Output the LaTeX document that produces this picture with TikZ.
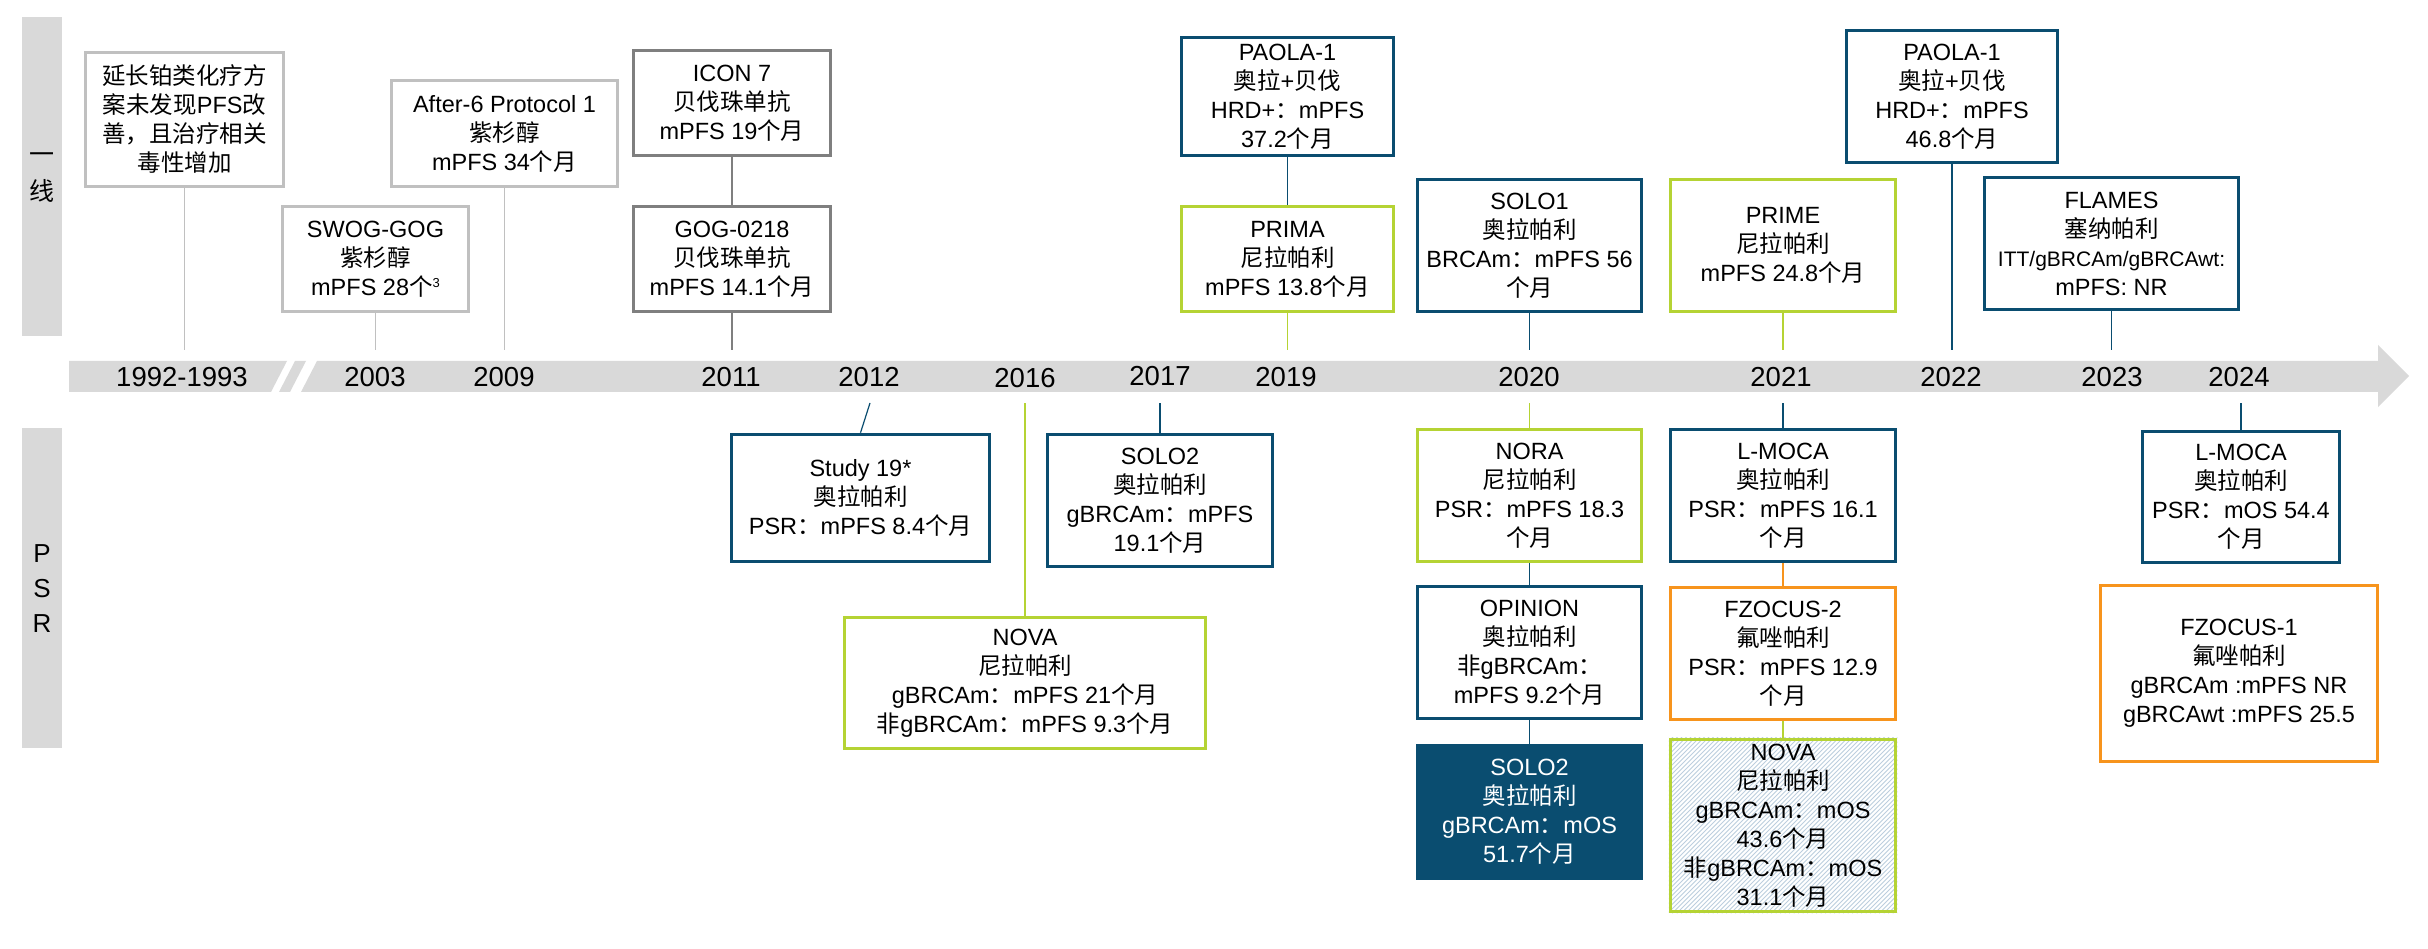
\documentclass[tikz,border=0pt]{standalone}
\usepackage{fontspec}
\setmainfont{Liberation Sans}
\newfontfamily\cjk{Noto Sans CJK SC}
\newcommand\z[1]{{\cjk #1}}
\pgfdeclarelayer{bg}
\pgfsetlayers{bg,main}
\definecolor{cblue}{RGB}{10,77,112}
\definecolor{cgreen}{RGB}{181,211,52}
\definecolor{corange}{RGB}{247,148,29}
\definecolor{lgray}{RGB}{192,192,192}
\definecolor{dgray}{RGB}{127,127,127}
\definecolor{barg}{RGB}{217,217,217}
\definecolor{hatch}{RGB}{188,206,222}
\newcommand\tlbox[7]{\node[#2, minimum width={#5-#3-3}, minimum height={#6-#4-3}] (#1) at ({(#3+#5)/2},{(#4+#6)/2}) {#7};}
\begin{document}
\begin{tikzpicture}[x=1pt,y=-1pt,
  every node/.style={font=\fontsize{23.5}{29}\selectfont, align=center, inner sep=0pt},
  gbox/.style={draw=lgray, line width=3pt},
  dbox/.style={draw=dgray, line width=3pt},
  bbox/.style={draw=cblue, line width=3.5pt},
  grbox/.style={draw=cgreen, line width=3.5pt},
  obox/.style={draw=corange, line width=3.5pt},
  fbox/.style={draw=cblue, line width=3pt, fill=cblue, text=white},
  hbox/.style={draw=cgreen, line width=3.5pt},
  conn/.style={line width=1.2pt},
  yr/.style={font=\fontsize{27.5}{30}\selectfont, anchor=base},
]
\useasboundingbox (0,0) rectangle (2428,949);
\begin{pgfonlayer}{bg}
\fill[white] (0,0) rectangle (2428,949);
\end{pgfonlayer}

% side bars
\fill[barg] (22,17) rectangle (62,336);
\fill[barg] (22,428) rectangle (62,748);
\node[font=\cjk\fontsize{25}{37}\selectfont] (lab1) at (42,178) {一\\线};
\node[font=\fontsize{26}{35}\selectfont] (lab2) at (42,589) {P\\S\\R};

% timeline bar
\fill[barg] (69,361) -- (287,361) -- (271,392) -- (69,392) -- cycle;
\fill[barg] (295,361) -- (306,361) -- (290,392) -- (279,392) -- cycle;
\fill[barg] (317,361) -- (2378,361) -- (2378,345) -- (2409,376) -- (2378,407) -- (2378,392) -- (301,392) -- cycle;

% years
\node[yr] (y1) at (182,387) {1992-1993};
\node[yr] (y2) at (375,387) {2003};
\node[yr] (y3) at (504,387) {2009};
\node[yr] (y4) at (731,387) {2011};
\node[yr] (y5) at (869,387) {2012};
\node[yr] (y6) at (1025,388) {2016};
\node[yr] (y7) at (1160,385) {2017};
\node[yr] (y8) at (1286,387) {2019};
\node[yr] (y9) at (1529,387) {2020};
\node[yr] (y10) at (1781,387) {2021};
\node[yr] (y11) at (1951,387) {2022};
\node[yr] (y12) at (2112,387) {2023};
\node[yr] (y13) at (2239,387) {2024};

\coordinate (tl) at (0,350);
\coordinate (bl) at (0,403);

% top boxes
\tlbox{b1}{gbox}{84}{51}{285}{188}{\z{延长铂类化疗方}\\\z{案未发现}PFS\z{改}\\\z{善，且治疗相关}\\\z{毒性增加}}
\tlbox{swog}{gbox}{281}{205}{470}{313}{SWOG-GOG\\\z{紫杉醇}\\mPFS 28\z{个}\raisebox{8pt}{\fontsize{13}{13}\selectfont 3}}
\tlbox{after}{gbox}{390}{79}{619}{188}{After-6 Protocol 1\\\z{紫杉醇}\\mPFS 34\z{个月}}
\tlbox{icon}{dbox}{632}{49}{832}{157}{ICON 7\\\z{贝伐珠单抗}\\mPFS 19\z{个月}}
\tlbox{gog}{dbox}{632}{205}{832}{313}{GOG-0218\\\z{贝伐珠单抗}\\mPFS 14.1\z{个月}}
\tlbox{paolaA}{bbox}{1180}{36}{1395}{157}{PAOLA-1\\\z{奥拉}+\z{贝伐}\\HRD+\z{：}mPFS\\37.2\z{个月}}
\tlbox{prima}{grbox}{1180}{205}{1395}{313}{PRIMA\\\z{尼拉帕利}\\mPFS 13.8\z{个月}}
\tlbox{solo1}{bbox}{1416}{178}{1643}{313}{SOLO1\\\z{奥拉帕利}\\BRCAm\z{：}mPFS 56\\\z{个月}}
\tlbox{prime}{grbox}{1669}{178}{1897}{313}{PRIME\\\z{尼拉帕利}\\mPFS 24.8\z{个月}}
\tlbox{paolaB}{bbox}{1845}{29}{2059}{164}{PAOLA-1\\\z{奥拉}+\z{贝伐}\\HRD+\z{：}mPFS\\46.8\z{个月}}
\tlbox{flames}{bbox}{1983}{176}{2240}{311}{FLAMES\\\z{塞纳帕利}\\{\fontsize{21}{29}\selectfont ITT/gBRCAm/gBRCAwt:}\\mPFS: NR}

% bottom boxes
\tlbox{s19}{bbox}{730}{433}{991}{563}{Study 19*\\\z{奥拉帕利}\\PSR\z{：}mPFS 8.4\z{个月}}
\tlbox{soloA}{bbox}{1046}{433}{1274}{568}{SOLO2\\\z{奥拉帕利}\\gBRCAm\z{：}mPFS\\19.1\z{个月}}
\tlbox{novaA}{grbox}{843}{616}{1207}{750}{NOVA\\\z{尼拉帕利}\\gBRCAm\z{：}mPFS 21\z{个月}\\\z{非}gBRCAm\z{：}mPFS 9.3\z{个月}}
\tlbox{nora}{grbox}{1416}{428}{1643}{563}{NORA\\\z{尼拉帕利}\\PSR\z{：}mPFS 18.3\\\z{个月}}
\tlbox{opinion}{bbox}{1416}{585}{1643}{720}{OPINION\\\z{奥拉帕利}\\\z{非}gBRCAm\z{：}\\mPFS 9.2\z{个月}}
\tlbox{soloB}{fbox}{1416}{744}{1643}{880}{SOLO2\\\z{奥拉帕利}\\gBRCAm\z{：}mOS\\51.7\z{个月}}
\tlbox{lmocaA}{bbox}{1669}{428}{1897}{563}{L-MOCA\\\z{奥拉帕利}\\PSR\z{：}mPFS 16.1\\\z{个月}}
\tlbox{fzA}{obox}{1669}{586}{1897}{721}{FZOCUS-2\\\z{氟唑帕利}\\PSR\z{：}mPFS 12.9\\\z{个月}}
\tlbox{novaB}{hbox}{1669}{738}{1897}{913}{NOVA\\\z{尼拉帕利}\\gBRCAm\z{：}mOS\\43.6\z{个月}\\\z{非}gBRCAm\z{：}mOS\\31.1\z{个月}}
\tlbox{lmocaB}{bbox}{2141}{430}{2341}{564}{L-MOCA\\\z{奥拉帕利}\\PSR\z{：}mOS 54.4\\\z{个月}}
\tlbox{fzB}{obox}{2099}{584}{2379}{763}{FZOCUS-1\\\z{氟唑帕利}\\gBRCAm :mPFS NR\\gBRCAwt :mPFS 25.5}

% hatch of NOVA (2021)
\begin{pgfonlayer}{bg}
\begin{scope}
\clip (novaB.south west) rectangle (novaB.north east);
\foreach \i in {0,...,95} {
  \draw[hatch, line width=1pt, shift={(novaB.south west)}] (\i*4.5-190,0) -- ++(200,-200);
}
\end{scope}
\end{pgfonlayer}

% connectors above the bar
\draw[conn, lgray] (b1.south) -- (b1.south |- tl);
\draw[conn, lgray] (swog.south) -- (swog.south |- tl);
\draw[conn, lgray] (after.south) -- (after.south |- tl);
\draw[conn, dgray] (icon.south) -- (gog.north);
\draw[conn, dgray] (gog.south) -- (gog.south |- tl);
\draw[conn, cblue] (paolaA.south) -- (prima.north);
\draw[conn, cgreen] (prima.south) -- (prima.south |- tl);
\draw[conn, cblue] (solo1.south) -- (solo1.south |- tl);
\draw[conn, cgreen] (prime.south) -- (prime.south |- tl);
\draw[conn, cblue] (paolaB.south) -- (paolaB.south |- tl);
\draw[conn, cblue] (flames.south) -- (flames.south |- tl);

% connectors below the bar
\coordinate (s19c) at (870,403);
\draw[conn, cblue] (s19.north) -- (s19c);
\draw[conn, cgreen] (novaA.north) -- (novaA.north |- bl);
\draw[conn, cblue] (soloA.north) -- (soloA.north |- bl);
\draw[conn, cgreen] (nora.north) -- (nora.north |- bl);
\draw[conn, cblue] (nora.south) -- (opinion.north);
\draw[conn, cblue] (opinion.south) -- (soloB.north);
\draw[conn, cblue] (lmocaA.north) -- (lmocaA.north |- bl);
\draw[conn, corange] (lmocaA.south) -- (fzA.north);
\draw[conn, cgreen] (fzA.south) -- (novaB.north);
\draw[conn, cblue] (lmocaB.north) -- (lmocaB.north |- bl);
\end{tikzpicture}
\end{document}
